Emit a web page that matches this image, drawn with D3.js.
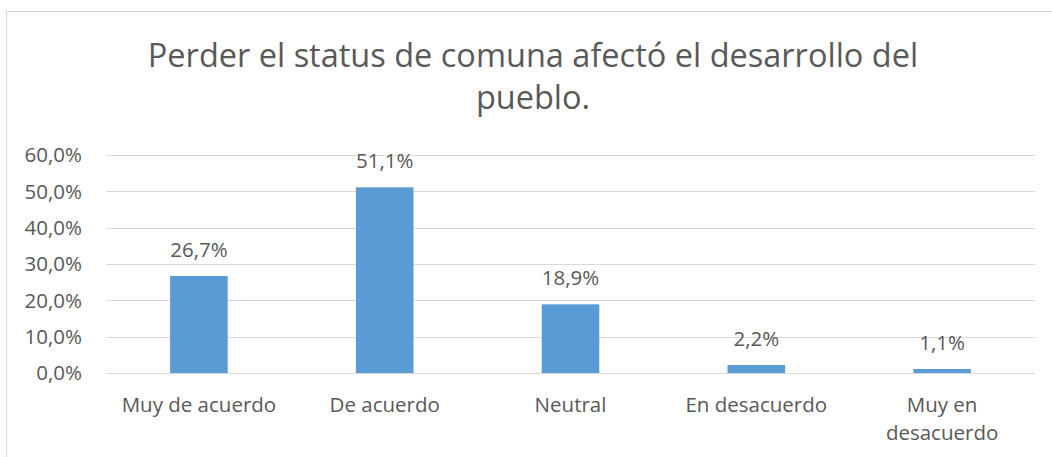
<!DOCTYPE html>
<html>
<head>
<meta charset="utf-8">
<script src="https://cdn.jsdelivr.net/npm/d3@7"></script>
<style>
  body { margin: 0; background: #fff; }
  text { font-family: "Open Sans", sans-serif; fill: #595959; }
</style>
</head>
<body>
<div id="chart"></div>
<script>
// chart data
var categories = ["Muy de acuerdo", "De acuerdo", "Neutral", "En desacuerdo", "Muy en desacuerdo"];
var values = [26.7, 51.1, 18.9, 2.2, 1.1];
var yTicks = [0, 10, 20, 30, 40, 50, 60];
var titleLines = ["Perder el status de comuna afectó el desarrollo del", "pueblo."];

var W = 1052, H = 457;
var margin = {top: 155, right: 17, bottom: 84, left: 106},
    width = W - margin.left - margin.right,
    height = H - margin.top - margin.bottom;

var svg = d3.select("#chart")
  .append("svg")
    .attr("width", W)
    .attr("height", H);

// outer chart border
svg.append("rect")
  .attr("x", 6.5).attr("y", 11.5)
  .attr("width", W).attr("height", H)
  .attr("fill", "none")
  .attr("stroke", "#d9d9d9");

// title
svg.selectAll(".title")
  .data(titleLines)
  .enter()
  .append("text")
    .attr("x", 533)
    .attr("y", function(d, i) { return 67 + i * 42; })
    .attr("text-anchor", "middle")
    .style("font-size", "32.5px")
    .text(function(d) { return d; });

var g = svg.append("g")
  .attr("transform", "translate(" + margin.left + "," + margin.top + ")");

var x = d3.scaleBand()
  .domain(categories)
  .range([0, width])
  .paddingInner(0.69)
  .paddingOuter(0.345);

var y = d3.scaleLinear()
  .domain([0, 60])
  .range([height, 0]);

// gridlines
g.selectAll(".grid")
  .data(yTicks)
  .enter()
  .append("line")
    .attr("x1", 0).attr("x2", width)
    .attr("y1", function(d) { return Math.round(y(d)) + 0.5; })
    .attr("y2", function(d) { return Math.round(y(d)) + 0.5; })
    .attr("stroke", "#d9d9d9")
    .attr("stroke-width", 1);

// y labels
g.selectAll(".ylab")
  .data(yTicks)
  .enter()
  .append("text")
    .attr("x", -24)
    .attr("y", function(d) { return y(d); })
    .attr("dy", "0.35em")
    .attr("text-anchor", "end")
    .style("font-size", "20.5px")
    .text(function(d) { return d.toFixed(1).replace(".", ",") + "%"; });

// bars
g.selectAll(".bar")
  .data(values)
  .enter()
  .append("rect")
    .attr("x", function(d, i) { return x(categories[i]); })
    .attr("y", function(d) { return y(d); })
    .attr("width", x.bandwidth())
    .attr("height", function(d) { return height - y(d); })
    .attr("fill", "#5b9bd5");

// value labels
g.selectAll(".vlab")
  .data(values)
  .enter()
  .append("text")
    .attr("x", function(d, i) { return x(categories[i]) + x.bandwidth() / 2; })
    .attr("y", function(d) { return y(d) - 19; })
    .attr("text-anchor", "middle")
    .style("font-size", "20.5px")
    .text(function(d) { return d.toFixed(1).replace(".", ",") + "%"; });

// category labels (wrap the long one)
g.selectAll(".xlab")
  .data(categories)
  .enter()
  .append("text")
    .attr("x", function(d) { return x(d) + x.bandwidth() / 2; })
    .attr("y", height + 39)
    .attr("text-anchor", "middle")
    .style("font-size", "20.5px")
    .each(function(d) {
      var t = d3.select(this);
      var lines = d === "Muy en desacuerdo" ? ["Muy en", "desacuerdo"] : [d];
      lines.forEach(function(l, i) {
        t.append("tspan")
          .attr("x", t.attr("x"))
          .attr("dy", i === 0 ? 0 : 28)
          .text(l);
      });
    });
</script>
</body>
</html>
